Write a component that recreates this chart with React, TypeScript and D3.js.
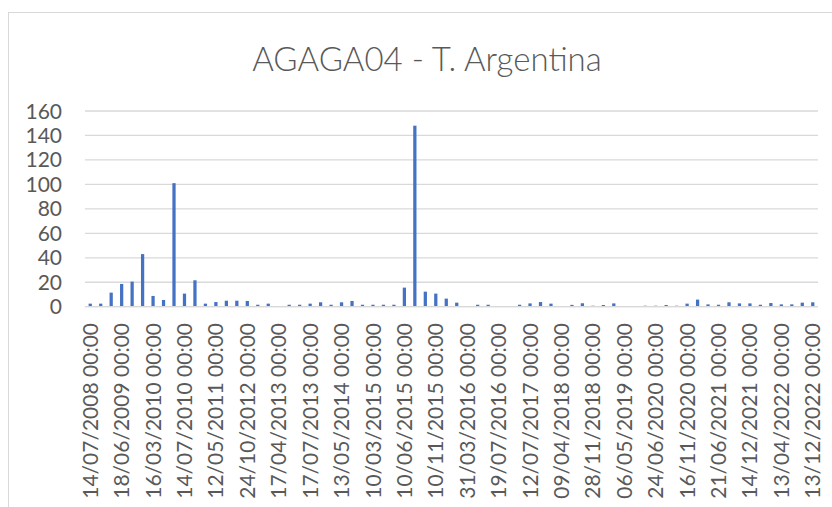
import React from "react";
import * as d3 from "d3";

const TITLE = "AGAGA04 - T. Argentina";

const categories: string[] = [
  "14/07/2008 00:00", "11/11/2008 00:00", "12/03/2009 00:00",
  "18/06/2009 00:00", "14/10/2009 00:00", "13/01/2010 00:00",
  "16/03/2010 00:00", "15/04/2010 00:00", "12/05/2010 00:00",
  "14/07/2010 00:00", "16/09/2010 00:00", "20/01/2011 00:00",
  "12/05/2011 00:00", "15/09/2011 00:00", "20/03/2012 00:00",
  "24/10/2012 00:00", "16/01/2013 00:00", "13/03/2013 00:00",
  "17/04/2013 00:00", "15/05/2013 00:00", "13/06/2013 00:00",
  "17/07/2013 00:00", "15/10/2013 00:00", "14/01/2014 00:00",
  "13/05/2014 00:00", "12/08/2014 00:00", "11/11/2014 00:00",
  "10/03/2015 00:00", "08/04/2015 00:00", "12/05/2015 00:00",
  "10/06/2015 00:00", "14/07/2015 00:00", "11/08/2015 00:00",
  "10/11/2015 00:00", "11/12/2015 00:00", "19/01/2016 00:00",
  "31/03/2016 00:00", "10/05/2016 00:00", "14/06/2016 00:00",
  "19/07/2016 00:00", "23/11/2016 00:00", "15/03/2017 00:00",
  "12/07/2017 00:00", "18/10/2017 00:00", "17/01/2018 00:00",
  "09/04/2018 00:00", "11/07/2018 00:00", "18/09/2018 00:00",
  "28/11/2018 00:00", "23/01/2019 00:00", "20/03/2019 00:00",
  "06/05/2019 00:00", "20/11/2019 00:00", "19/02/2020 00:00",
  "24/06/2020 00:00", "18/08/2020 00:00", "22/09/2020 00:00",
  "16/11/2020 00:00", "19/01/2021 00:00", "16/03/2021 00:00",
  "21/06/2021 00:00", "17/08/2021 00:00", "19/10/2021 00:00",
  "14/12/2021 00:00", "15/02/2022 00:00", "16/03/2022 00:00",
  "13/04/2022 00:00", "14/06/2022 00:00", "18/10/2022 00:00",
  "13/12/2022 00:00",
];

const values: number[] = [
  2.5, 2.5, 11.5, 18.6, 20.5, 43, 8.8, 5.5, 101, 10.7,
  21.6, 2.5, 3.8, 4.9, 4.9, 4.7, 1.6, 2.5, 0, 1.6,
  1.6, 2.5, 3.6, 1.6, 3.6, 4.7, 1.6, 1.6, 1.6, 1.6,
  15.6, 148, 12.3, 10.7, 6.6, 3.3, 0.3, 1.6, 1.6, 0,
  0.3, 1.6, 2.7, 3.8, 2.5, 0.3, 1.5, 2.8, 0.8, 1.4,
  2.7, 0.3, 0, 0.8, 0.8, 1.4, 0.8, 2.5, 5.8, 1.9,
  1.6, 3.6, 2.7, 2.7, 1.6, 3, 1.9, 1.9, 3.3, 3.6,
];

const yTicks: number[] = [0, 20, 40, 60, 80, 100, 120, 140, 160];

const FONT = "Lato, 'Open Sans', sans-serif";
const TEXT = "#595959";
const GRID = "#d9d9d9";
const BAR = "#4472C4";

export default function App() {
  const x = d3.scaleBand<string>().domain(categories).range([85, 818]).padding(0);
  const y = d3.scaleLinear().domain([0, 160]).range([306.7, 111]);
  const bw = x.bandwidth() * 0.31;
  const labelCats = categories.filter((_, i) => i % 3 === 0);

  return (
    <svg
      width={832}
      height={507}
      style={{ position: "absolute", left: 0, top: 0, background: "#fff" }}
      fontFamily={FONT}
    >
      <rect x={0} y={0} width={832} height={507} fill="#fff" />
      <rect x={8.5} y={12.5} width={900} height={600} fill="#fff" stroke={GRID} strokeWidth={1} />
      <text x={427} y={71} textAnchor="middle" fontSize={33} fontWeight={300} fill={TEXT}>
        {TITLE}
      </text>
      {yTicks.map((t) => (
        <g key={t}>
          <line x1={85} x2={818} y1={y(t)} y2={y(t)} stroke={GRID} strokeWidth={1.3} />
          <text x={62} y={y(t)} dy="0.36em" textAnchor="end" fontSize={21} fill={TEXT}>
            {t}
          </text>
        </g>
      ))}
      {values.map((v, i) => (
        <rect
          key={i}
          x={(x(categories[i]) as number) + x.bandwidth() / 2 - bw / 2}
          y={y(v)}
          width={bw}
          height={y(0) - y(v)}
          fill={BAR}
        />
      ))}
      <line x1={85} x2={818} y1={y(0)} y2={y(0)} stroke={GRID} strokeWidth={1.3} />
      {labelCats.map((c) => {
        const cx = (x(c) as number) + x.bandwidth() / 2;
        return (
          <text
            key={c}
            transform={`translate(${cx},323) rotate(-90)`}
            dy="0.36em"
            textAnchor="end"
            fontSize={21}
            fill={TEXT}
          >
            {c}
          </text>
        );
      })}
    </svg>
  );
}
